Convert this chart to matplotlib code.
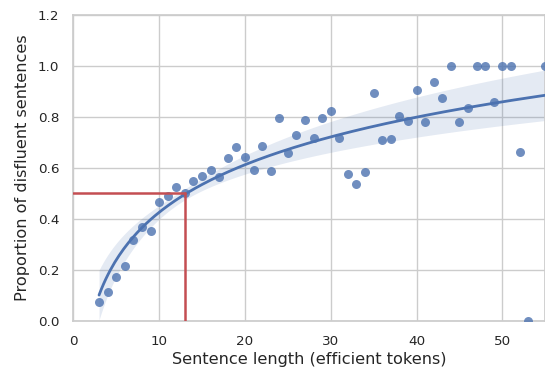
import numpy as np
import matplotlib
matplotlib.use("Agg")
import matplotlib.pyplot as plt
import seaborn as sns

# sentence length (efficient tokens) and proportion of disfluent sentences
lengths = [3, 4, 5, 6, 7, 8, 9, 10, 11, 12, 13, 14, 15, 16, 17, 18, 19, 20,
           21, 22, 23, 24, 25, 26, 27, 28, 29, 30, 31, 32, 33, 34, 35, 36, 37,
           38, 39, 40, 41, 42, 43, 44, 45, 46, 47, 48, 49, 50, 51, 52, 53, 55]
proportions = [0.073, 0.111, 0.173, 0.216, 0.317, 0.369, 0.351, 0.466, 0.491,
               0.526, 0.500, 0.547, 0.569, 0.591, 0.565, 0.637, 0.682, 0.642,
               0.593, 0.687, 0.586, 0.797, 0.658, 0.730, 0.786, 0.719, 0.797,
               0.825, 0.719, 0.575, 0.536, 0.582, 0.895, 0.708, 0.715, 0.803,
               0.784, 0.907, 0.779, 0.935, 0.873, 1.0, 0.779, 0.834, 1.0, 1.0,
               0.858, 1.0, 1.0, 0.663, 0.0, 1.0]

x_ticks = [0, 10, 20, 30, 40, 50]
y_ticks = [0.0, 0.2, 0.4, 0.6, 0.8, 1.0, 1.2]
cut_x, cut_y = 13, 0.5

sns.set_theme(style="whitegrid")
blue = sns.color_palette("deep")[0]
red = sns.color_palette("deep")[3]

x = np.array(lengths, dtype=float)
y = np.array(proportions)

# y ~ a + b*log(x); band from robust (HC0) errors, scaled to match the original
X = np.column_stack([np.ones_like(x), np.log(x)])
XtX_inv = np.linalg.inv(X.T @ X)
beta = XtX_inv @ X.T @ y
resid = y - X @ beta
meat = X.T @ (X * (resid ** 2)[:, None])
cov = XtX_inv @ meat @ XtX_inv

grid = np.linspace(x.min(), x.max(), 200)
G = np.column_stack([np.ones_like(grid), np.log(grid)])
fit = G @ beta
se = np.sqrt(np.sum((G @ cov) * G, axis=1))
half = 1.96 * 1.1 * se

fig = plt.figure(figsize=(5.45, 3.74), dpi=100)
ax = fig.add_axes([0.1345, 0.1425, 0.866, 0.8175])

ax.scatter(x, y, s=42, color=blue, alpha=0.8, linewidths=0, zorder=3)
ax.plot(grid, fit, color=blue, lw=2.0, zorder=4)
ax.fill_between(grid, fit - half, fit + half, color=blue, alpha=0.15,
                linewidth=0, zorder=2)

ax.plot([0, cut_x], [cut_y, cut_y], color=red, lw=1.8, zorder=5)
ax.plot([cut_x, cut_x], [0, cut_y], color=red, lw=1.8, zorder=5)

ax.set_xlim(0, 55)
ax.set_ylim(0, 1.2)
ax.set_xticks(x_ticks)
ax.set_yticks(y_ticks)
ax.set_yticklabels([f"{t:.1f}" for t in y_ticks])
ax.tick_params(labelsize=9.7, pad=4)
ax.set_xlabel("Sentence length (efficient tokens)", fontsize=11.6, labelpad=3)
ax.set_ylabel("Proportion of disfluent sentences", fontsize=11.6, labelpad=6)

fig.savefig("out.png", dpi=100)
